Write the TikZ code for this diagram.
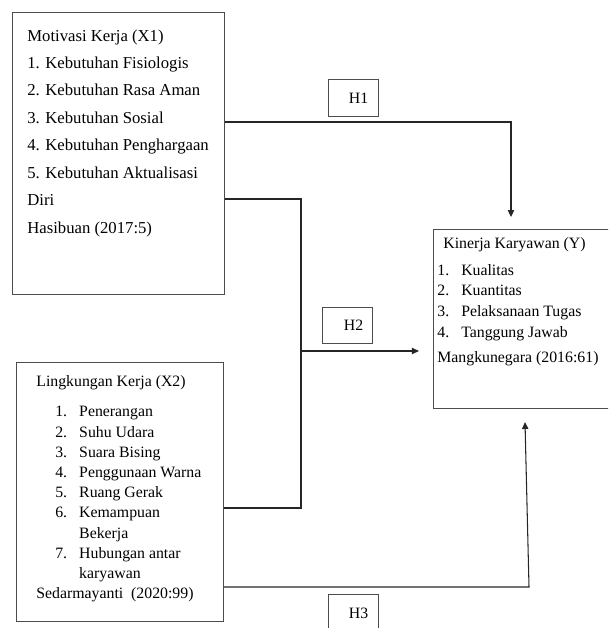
\documentclass[tikz,border=0pt]{standalone}
\usepackage{fontspec}
\setmainfont{Liberation Serif}
\usetikzlibrary{arrows.meta}

\newcommand{\itm}[2]{\makebox[13.6pt][l]{#1}#2}
\newcommand{\toprl}{\rule{0pt}{7pt}}

\begin{document}
\begin{tikzpicture}[x=0.02cm, y=-0.02cm,
  box/.style={draw=black!70, line width=0.6pt, inner sep=0, anchor=north west},
  txt/.style={inner sep=0, anchor=north west, align=left},
  ln/.style={draw=black!85, line width=0.6pt},
  arr/.style={ln, -{Triangle[length=4pt,width=3.6pt]}},
  font=\fontsize{9}{11.5}\selectfont]

\useasboundingbox (0,0) rectangle (608,628);
\clip (0,0) rectangle (608,628);

% kotak variabel
\node[box, minimum width=212*0.02cm, minimum height=282*0.02cm] (x1) at (12,12) {};
\node[box, minimum width=207*0.02cm, minimum height=259*0.02cm] (x2) at (16,362) {};
\node[box, minimum width=190*0.02cm, minimum height=179*0.02cm] (y) at (433,229) {};

\node[txt, font=\fontsize{9.5}{15.6}\selectfont] (x1t) at (27,28.5) {\toprl Motivasi Kerja (X1)\\
1. Kebutuhan Fisiologis\\
2. Kebutuhan Rasa Aman\\
3. Kebutuhan Sosial\\
4. Kebutuhan Penghargaan\\
5. Kebutuhan Aktualisasi\\
Diri\\
Hasibuan (2017:5)};

\node[txt] (x2t) at (36,373.5) {\toprl Lingkungan Kerja (X2)\\[6pt]
\hspace*{10.8pt}\itm{1.}{Penerangan}\\
\hspace*{10.8pt}\itm{2.}{Suhu Udara}\\
\hspace*{10.8pt}\itm{3.}{Suara Bising}\\
\hspace*{10.8pt}\itm{4.}{Penggunaan Warna}\\
\hspace*{10.8pt}\itm{5.}{Ruang Gerak}\\
\hspace*{10.8pt}\itm{6.}{Kemampuan}\\
\hspace*{24.4pt}Bekerja\\
\hspace*{10.8pt}\itm{7.}{Hubungan antar}\\
\hspace*{24.4pt}karyawan\\
Sedarmayanti\ \ (2020:99)};

\node[txt, font=\fontsize{9}{11.8}\selectfont] (yt) at (437,235.5) {\toprl\hspace*{3.4pt}Kinerja Karyawan (Y)\\[3.6pt]
\itm{1.}{Kualitas}\\
\itm{2.}{Kuantitas}\\
\itm{3.}{Pelaksanaan Tugas}\\
\itm{4.}{Tanggung Jawab}\\[2.6pt]
Mangkunegara (2016:61)};

% hipotesis
\node[box, minimum width=50*0.02cm, minimum height=37*0.02cm] (h1) at (328,79) {\hspace*{5.7pt}H1};
\node[box, minimum width=50*0.02cm, minimum height=36*0.02cm] (h2) at (322,307) {\hspace*{6.8pt}H2};
\node[box, minimum width=50*0.02cm, minimum height=38*0.02cm] (h3) at (328,594) {\hspace*{5.7pt}H3};

% garis
\coordinate (m2) at (301,351);
\coordinate (b3) at (529,587);
\coordinate (t3) at (525,422);

\draw[arr, shorten >=6.8pt] (x1.east |- 0,122) -| (y.north -| 511,0);
\draw[ln] (x1.east |- 0,199) -| (m2) |- (x2.east |- 0,508);
\draw[arr, shorten >=8pt] (m2) -- (y.west |- m2);
\draw[arr] (x2.east |- b3) -- (b3) -- (t3);

\end{tikzpicture}
\end{document}
